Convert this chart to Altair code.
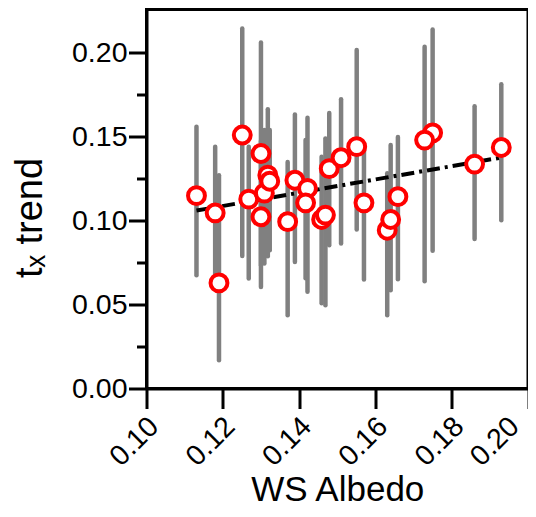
import altair as alt
import pandas as pd

# WS albedo (x) and t_x trend (y) with lower / upper error bounds
albedo = [0.1131, 0.1180, 0.1190, 0.1251, 0.1268, 0.1300, 0.1300, 0.1309, 0.1318,
          0.1323, 0.1370, 0.1389, 0.1422, 0.1417, 0.1459, 0.1469, 0.1479, 0.1510,
          0.1551, 0.1570, 0.1631, 0.1640, 0.1659, 0.1750, 0.1729, 0.1860, 0.1930]
trend = [0.1149, 0.1046, 0.0629, 0.1510, 0.1128, 0.1400, 0.1023, 0.1164, 0.1271,
         0.1235, 0.0994, 0.1241, 0.1192, 0.1106, 0.1007, 0.1033, 0.1310, 0.1375,
         0.1441, 0.1106, 0.0943, 0.1007, 0.1143, 0.1523, 0.1480, 0.1337, 0.1436]
trend_lo = [0.0675, 0.0675, 0.0169, 0.0790, 0.0656, 0.0735, 0.0605, 0.0745, 0.0788,
            0.0824, 0.0437, 0.0754, 0.0576, 0.0657, 0.0508, 0.0496, 0.0854, 0.0864,
            0.0948, 0.0650, 0.0437, 0.0586, 0.0651, 0.0820, 0.0639, 0.0890, 0.1003]
trend_hi = [0.1560, 0.1440, 0.1271, 0.2145, 0.1440, 0.2062, 0.1474, 0.1540, 0.1664,
            0.1540, 0.1350, 0.1633, 0.1613, 0.1480, 0.1380, 0.1490, 0.1642, 0.1724,
            0.2016, 0.1432, 0.1283, 0.1450, 0.1499, 0.2139, 0.2036, 0.1682, 0.1813]

fit_x = [0.1131, 0.1930]
fit_y = [0.1060, 0.1376]

x_ticks = [0.10, 0.11, 0.12, 0.13, 0.14, 0.15, 0.16, 0.17, 0.18, 0.19, 0.20]
y_ticks = [0.0, 0.025, 0.05, 0.075, 0.10, 0.125, 0.15, 0.175, 0.20]

df = pd.DataFrame({"albedo": albedo, "trend": trend, "lo": trend_lo, "hi": trend_hi})
fit = pd.DataFrame({"albedo": fit_x, "trend": fit_y})

FONT = "Liberation Sans"

xscale = alt.Scale(domain=[0.10, 0.20], nice=False, zero=False)
yscale = alt.Scale(domain=[0.0, 0.2258], nice=False, zero=False)

x_major = "round(datum.value*100) % 2 == 0"
y_major = "round(datum.value*1000) % 50 == 0"

xaxis = alt.Axis(
    values=x_ticks,
    labelExpr=f"{x_major} ? format(datum.value, '.2f') : ''",
    tickSize={"condition": {"test": x_major, "value": 20}, "value": 11},
    labelAngle=315, labelAlign="right", labelBaseline="top",
    labelOffset={"condition": {"test": "datum.value > 0.195", "value": -24}, "value": -3},
    labelPadding=3, labelFontSize=28.5, labelFont=FONT, labelColor="black",
    title="WS Albedo", titleFontSize=35, titleFont=FONT, titleFontWeight="normal",
    titleColor="black", titleBaseline="alphabetic", titleY=112,
    domainColor="black", domainWidth=3, tickColor="black", tickWidth=3,
    grid=False, labelFlush=False, labelOverlap=False,
)
yaxis = alt.Axis(
    values=y_ticks,
    labelExpr=f"{y_major} ? format(datum.value, '.2f') : ''",
    tickSize={"condition": {"test": y_major, "value": 18}, "value": 10},
    labelPadding=1.5, labelFontSize=28.5, labelFont=FONT, labelColor="black",
    title="tₓ trend", titleFontSize=38, titleFont=FONT, titleFontWeight="normal",
    titleColor="black", titleBaseline="alphabetic", titleAlign="center",
    titleAngle=270, titleX=-105, titleY=208,
    domainColor="black", domainWidth=3, tickColor="black", tickWidth=3,
    grid=False, labelFlush=False, labelOverlap=False,
)

bars = alt.Chart(df).mark_rule(color="#808080", strokeWidth=4.5, strokeCap="round").encode(
    x=alt.X("albedo:Q", scale=xscale, axis=xaxis),
    y=alt.Y("lo:Q", scale=yscale, axis=yaxis),
    y2="hi:Q",
)

line = alt.Chart(fit).mark_line(color="black", strokeWidth=4, strokeDash=[13, 5, 3, 5]).encode(
    x=alt.X("albedo:Q", scale=xscale),
    y=alt.Y("trend:Q", scale=yscale),
)

points = alt.Chart(df).mark_circle(
    fill="white", stroke="#ff0000", strokeWidth=4, size=285, opacity=1, fillOpacity=1
).encode(
    x=alt.X("albedo:Q", scale=xscale),
    y=alt.Y("trend:Q", scale=yscale),
)

chart = alt.layer(bars, line, points).properties(
    width=381.5, height=379,
    autosize=alt.AutoSizeParams(type="none"),
    padding={"left": 138.5, "top": 1.5, "right": 0, "bottom": 120.5},
    background="white",
).configure_view(stroke="black", strokeWidth=3)

chart.save("out.html", embed_options={"renderer": "svg", "actions": False})
